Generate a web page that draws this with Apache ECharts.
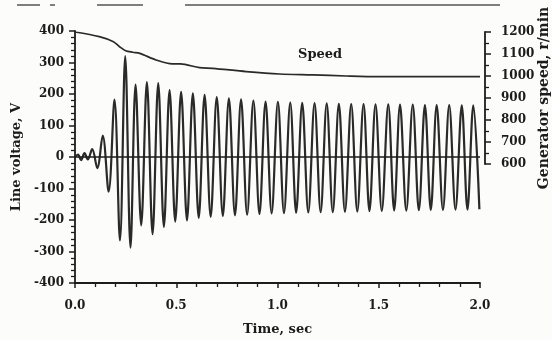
<!DOCTYPE html>
<html>
<head>
<meta charset="utf-8">
<script src="https://cdn.jsdelivr.net/npm/echarts@6/dist/echarts.min.js"></script>
<style>
html,body{margin:0;padding:0;background:#fcfcfb;}
#c{width:552px;height:340px;}
</style>
</head>
<body>
<div id="c"></div>
<script>
// Line voltage: extremum points (time s, volts)
const voltTime = [0.000,0.015,0.030,0.047,0.063,0.085,0.110,0.137,0.166,0.195,0.222,0.248,0.274,0.299,0.327,0.355,0.383,0.411,0.439,0.467,0.495,0.524,0.553,0.582,0.611,0.640,0.670,0.700,0.730,0.760,0.790,0.820,0.850,0.881,0.911,0.941,0.971,1.002,1.032,1.063,1.092,1.122,1.152,1.183,1.213,1.243,1.273,1.303,1.333,1.364,1.394,1.425,1.454,1.484,1.515,1.547,1.576,1.605,1.636,1.668,1.698,1.728,1.757,1.786,1.817,1.848,1.879,1.910,1.938,1.967,1.997];
const voltValue = [0,8,-10,12,-8,25,-35,68,-110,182,-265,320,-288,230,-217,238,-245,235,-222,212,-205,207,-201,202,-193,197,-190,190,-187,186,-185,183,-183,179,-181,176,-179,175,-178,173,-177,172,-176,171,-175,170,-175,169,-174,168,-173,168,-172,167,-171,167,-170,166,-170,166,-169,165,-168,165,-168,165,-167,164,-167,164,-166];
// Generator speed (r/min)
const speedTime = [0.00,0.12,0.19,0.22,0.25,0.285,0.32,0.40,0.48,0.52,0.615,0.68,0.845,1.01,1.175,1.34,1.50,2.00];
const speedValue = [1200,1179,1156,1133,1115,1108,1103,1073,1055,1055,1038,1035,1020,1009,1005,1000,997,997];
// Tick labels
const timeTicks = ['0.0','0.5','1.0','1.5','2.0'];
const voltTicks = ['-400','-300','-200','-100','0','100','200','300','400'];
const speedTicks = ['600','700','800','900','1000','1100','1200'];

const ink = '#1c1c1c';
const fontF = '"DejaVu Serif", "Liberation Serif", serif';

const chart = echarts.init(document.getElementById('c'), null, {renderer:'canvas'});
chart.setOption({
  animation:false,
  backgroundColor:'#fcfcfb',
  grid:[
    {left:75, right:72, top:31, bottom:57, outerBoundsMode:'none', containLabel:false},
    {left:75, right:72, top:32, height:132, outerBoundsMode:'none', containLabel:false}
  ],
  xAxis:[
    {gridIndex:0, type:'value', min:0, max:2, interval:0.5,
     axisLine:{show:true, onZero:false, lineStyle:{color:ink, width:1.8}},
     axisTick:{show:true, inside:false, length:5, lineStyle:{color:ink, width:1.5}},
     minorTick:{show:true, splitNumber:5, length:4, lineStyle:{color:ink, width:1.3}},
     splitLine:{show:false},
     axisLabel:{margin:17, color:ink, fontFamily:fontF, fontWeight:'bold', fontSize:12,
       formatter:(v)=>timeTicks[Math.round(v/0.5)]},
     name:'Time, sec', nameLocation:'middle', nameGap:40, nameMoveOverlap:false,
     nameTextStyle:{color:ink, fontFamily:fontF, fontWeight:'bold', fontSize:13}
    },
    {gridIndex:1, type:'value', min:0, max:2, show:false}
  ],
  yAxis:[
    {gridIndex:0, type:'value', min:-400, max:400, interval:100, position:'left',
     axisLine:{show:true, onZero:false, lineStyle:{color:ink, width:1.8}},
     axisTick:{show:true, length:6, lineStyle:{color:ink, width:1.5}},
     minorTick:{show:true, splitNumber:5, length:4, lineStyle:{color:ink, width:1.3}},
     splitLine:{show:false},
     axisLabel:{margin:11, color:ink, fontFamily:fontF, fontWeight:'bold', fontSize:12,
       formatter:(v)=>voltTicks[Math.round((v+400)/100)]},
     name:'Line voltage, V', nameLocation:'middle', nameGap:52, nameRotate:90, nameMoveOverlap:false,
     nameTextStyle:{color:ink, fontFamily:fontF, fontWeight:'bold', fontSize:13}
    },
    {gridIndex:1, type:'value', min:600, max:1200, interval:100, position:'right', offset:5,
     axisLine:{show:true, onZero:false, lineStyle:{color:ink, width:1.8}},
     axisTick:{show:true, length:6, lineStyle:{color:ink, width:1.5}},
     minorTick:{show:true, splitNumber:2, length:4, lineStyle:{color:ink, width:1.3}},
     splitLine:{show:false},
     axisLabel:{margin:16, color:ink, fontFamily:fontF, fontWeight:'bold', fontSize:12,
       formatter:(v)=>speedTicks[Math.round((v-600)/100)]},
     name:'Generator speed, r/min', nameLocation:'middle', nameGap:52, nameRotate:90, nameMoveOverlap:false,
     nameTextStyle:{color:ink, fontFamily:fontF, fontWeight:'bold', fontSize:14}
    }
  ],
  graphic:[
    {type:'text', left:298, top:48, style:{text:'Speed', fill:ink, font:'bold 13px '+fontF}},
    {type:'line', shape:{x1:17,y1:5,x2:40,y2:5}, style:{stroke:'#555', lineWidth:1.5}},
    {type:'line', shape:{x1:50,y1:5,x2:55,y2:5}, style:{stroke:'#555', lineWidth:1.5}},
    {type:'line', shape:{x1:97,y1:5,x2:143,y2:5}, style:{stroke:'#555', lineWidth:1.5}},
    {type:'line', shape:{x1:185,y1:5,x2:500,y2:5}, style:{stroke:'#555', lineWidth:1.5}}
  ],
  series:[
    {type:'line', xAxisIndex:0, yAxisIndex:0, showSymbol:false, smooth:0.35,
     data:voltTime.map((t,i)=>[t, voltValue[i]]),
     lineStyle:{color:'#2a2a2a', width:2.2},
     markLine:{silent:true, symbol:['none','none'], label:{show:false},
       lineStyle:{color:ink, width:1.6, type:'solid'}, data:[{yAxis:0}]}
    },
    {type:'line', xAxisIndex:1, yAxisIndex:1, showSymbol:false, smooth:0.3,
     data:speedTime.map((t,i)=>[t, speedValue[i]]),
     lineStyle:{color:'#2a2a2a', width:1.7}
    }
  ]
});
</script>
</body>
</html>
